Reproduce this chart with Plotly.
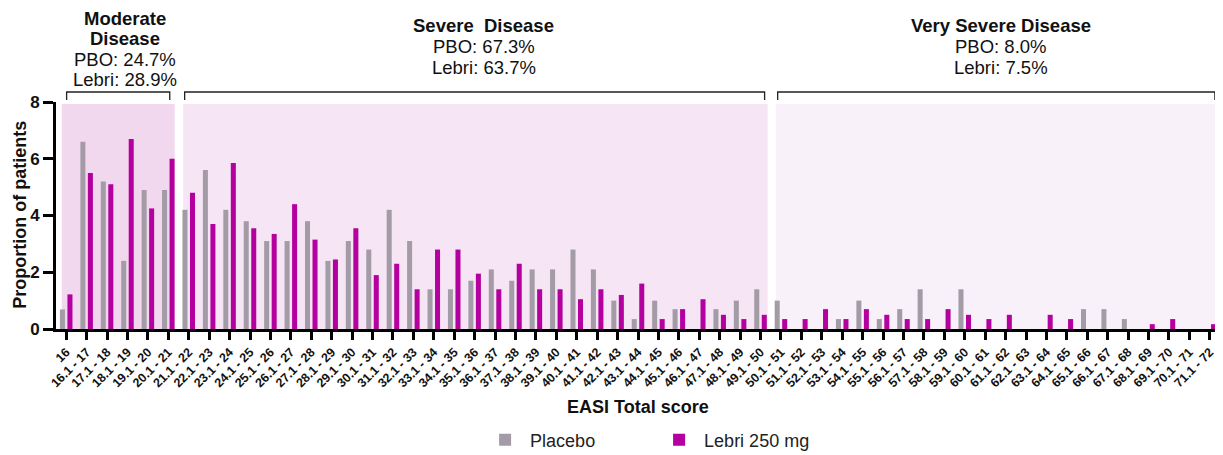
import plotly.graph_objects as go

categories = [
    "16", "16.1 - 17", "17.1 - 18", "18.1 - 19", "19.1 - 20", "20.1 - 21", "21.1 - 22",
    "22.1 - 23", "23.1 - 24", "24.1 - 25", "25.1 - 26", "26.1 - 27", "27.1 - 28",
    "28.1 - 29", "29.1 - 30", "30.1 - 31", "31.1 - 32", "32.1 - 33", "33.1 - 34",
    "34.1 - 35", "35.1 - 36", "36.1 - 37", "37.1 - 38", "38.1 - 39", "39.1 - 40",
    "40.1 - 41", "41.1 - 42", "42.1 - 43", "43.1 - 44", "44.1 - 45", "45.1 - 46",
    "46.1 - 47", "47.1 - 48", "48.1 - 49", "49.1 - 50", "50.1 - 51", "51.1 - 52",
    "52.1 - 53", "53.1 - 54", "54.1 - 55", "55.1 - 56", "56.1 - 57", "57.1 - 58",
    "58.1 - 59", "59.1 - 60", "60.1 - 61", "61.1 - 62", "62.1 - 63", "63.1 - 64",
    "64.1 - 65", "65.1 - 66", "66.1 - 67", "67.1 - 68", "68.1 - 69", "69.1 - 70",
    "70.1 - 71", "71.1 - 72",
]

placebo = [
    0.69, 6.6, 5.2, 2.4, 4.9, 4.9, 4.2, 5.6, 4.2, 3.8,
    3.1, 3.1, 3.8, 2.4, 3.1, 2.8, 4.2, 3.1, 1.4, 1.4,
    1.7, 2.1, 1.7, 2.1, 2.1, 2.8, 2.1, 1.0, 0.35, 1.0,
    0.7, 0.0, 0.7, 1.0, 1.4, 1.0, 0.0, 0.0, 0.35, 1.0,
    0.35, 0.7, 1.4, 0.0, 1.4, 0.0, 0.0, 0.0, 0.0, 0.0,
    0.7, 0.7, 0.35, 0.0, 0.0, 0.0, 0.0,
]

lebri = [
    1.22, 5.5, 5.1, 6.7, 4.25, 6.0, 4.8, 3.7, 5.85, 3.55,
    3.35, 4.4, 3.15, 2.45, 3.55, 1.9, 2.3, 1.4, 2.8, 2.8,
    1.95, 1.4, 2.3, 1.4, 1.4, 1.05, 1.4, 1.2, 1.6, 0.35,
    0.7, 1.05, 0.5, 0.35, 0.5, 0.35, 0.35, 0.7, 0.35, 0.7,
    0.5, 0.35, 0.35, 0.7, 0.5, 0.35, 0.5, 0.0, 0.5, 0.35,
    0.0, 0.0, 0.0, 0.17, 0.35, 0.0, 0.17,
]

series_names = ["Placebo", "Lebri 250 mg"]
series_colors = ["#a39ca7", "#b4009f"]

group_titles = [["Moderate", "Disease"], ["Severe  Disease"], ["Very Severe Disease"]]
group_pbo = ["PBO: 24.7%", "PBO: 67.3%", "PBO: 8.0%"]
group_lebri = ["Lebri: 28.9%", "Lebri: 63.7%", "Lebri: 7.5%"]

FONT = "Liberation Sans, Arial, sans-serif"
W, H = 1223, 455
OFF = 8  # page body margin in the browser
# target screen positions of the plot area
SX0, SX1, SY0, SY1 = 56.3, 1220.5, 102, 329
ML = SX0 - OFF
MR = W - (SX1 - OFF)
MT = SY0 - OFF
MB = H - (SY1 - OFF)
PW, PH = W - ML - MR, H - MT - MB


def px_to_paper_x(px):
    return (px - SX0) / PW


def px_to_paper_y(py):
    return (SY1 - py) / PH


fig = go.Figure()
for name, vals, col in zip(series_names, [placebo, lebri], series_colors):
    fig.add_trace(go.Bar(x=categories, y=vals, name=name, marker_color=col,
                         marker_line_width=0))

# shaded backgrounds (category index coordinates)
shade = [(-0.22, 5.31, "#f2d8ef"), (5.73, 34.35, "#f6e5f5"), (34.75, 56.5, "#f9f1f9")]
for x0, x1, c in shade:
    fig.add_shape(type="rect", xref="x", yref="y", x0=x0, x1=x1, y0=0, y1=7.93,
                  fillcolor=c, line_width=0, layer="below")

# brackets
brackets = [(0.02, 5.07), (5.8, 34.2), (34.84, 56.25)]
yb_top = px_to_paper_y(92)
yb_bot = px_to_paper_y(100)
for x0, x1 in brackets:
    fig.add_shape(type="path", xref="x", yref="paper",
                  path=f"M {x0},{yb_bot} L {x0},{yb_top} L {x1},{yb_top} L {x1},{yb_bot}",
                  line=dict(color="#222222", width=1.3))

# group labels
centers_px = [125, 484, 1001]
for i, cx in enumerate(centers_px):
    titles = group_titles[i]
    if len(titles) == 2:
        ys = [18, 38.5, 59, 80]
    else:
        ys = [25, 47, 68]
    lines = [(t, True) for t in titles] + [(group_pbo[i], False), (group_lebri[i], False)]
    for (txt, bold), py in zip(lines, ys):
        fig.add_annotation(xref="paper", yref="paper", x=px_to_paper_x(cx), y=px_to_paper_y(py),
                           text=f"<b>{txt}</b>" if bold else txt, showarrow=False,
                           xanchor="center", yanchor="middle",
                           font=dict(family=FONT, size=18.5, color="#111111"))

# axis titles
fig.add_annotation(xref="paper", yref="paper", x=px_to_paper_x(638), y=px_to_paper_y(407),
                   text="<b>EASI Total score</b>", showarrow=False, xanchor="center",
                   yanchor="middle", font=dict(family=FONT, size=18, color="#111111"))
fig.add_annotation(xref="paper", yref="paper", x=px_to_paper_x(20), y=px_to_paper_y(215),
                   text="<b>Proportion of patients</b>", showarrow=False, textangle=-90,
                   xanchor="center", yanchor="middle",
                   font=dict(family=FONT, size=18, color="#111111"))

fig.update_layout(
    width=W, height=H,
    margin=dict(l=ML, r=MR, t=MT, b=MB, autoexpand=False),
    plot_bgcolor="white", paper_bgcolor="white",
    barmode="group", bargap=0.265, bargroupgap=0.33,
    font=dict(family=FONT, color="#111111"),
    showlegend=True,
    legend=dict(orientation="h", x=px_to_paper_x(654.5), xanchor="center",
                y=px_to_paper_y(440), yanchor="middle",
                font=dict(family=FONT, size=18, color="#222222"),
                itemwidth=40, entrywidth=119, entrywidthmode="pixels",
                bgcolor="rgba(0,0,0,0)"),
    xaxis=dict(type="category", range=[-0.5, 56.5], showgrid=False, zeroline=False,
               showline=True, linecolor="black", linewidth=3, automargin=False,
               ticks="outside", ticklen=8, tickwidth=3, tickcolor="black",
               tickangle=-45, tickfont=dict(family=FONT, size=12.5, color="#111111", weight="bold")),
    yaxis=dict(range=[0, 8], tickvals=[0, 2, 4, 6, 8], showgrid=False, zeroline=False,
               showline=True, linecolor="black", linewidth=3, automargin=False,
               ticks="outside", ticklen=10, tickwidth=3, tickcolor="black",
               tickfont=dict(family=FONT, size=17, color="#111111", weight="bold")),
)

fig.write_html("out.html")
